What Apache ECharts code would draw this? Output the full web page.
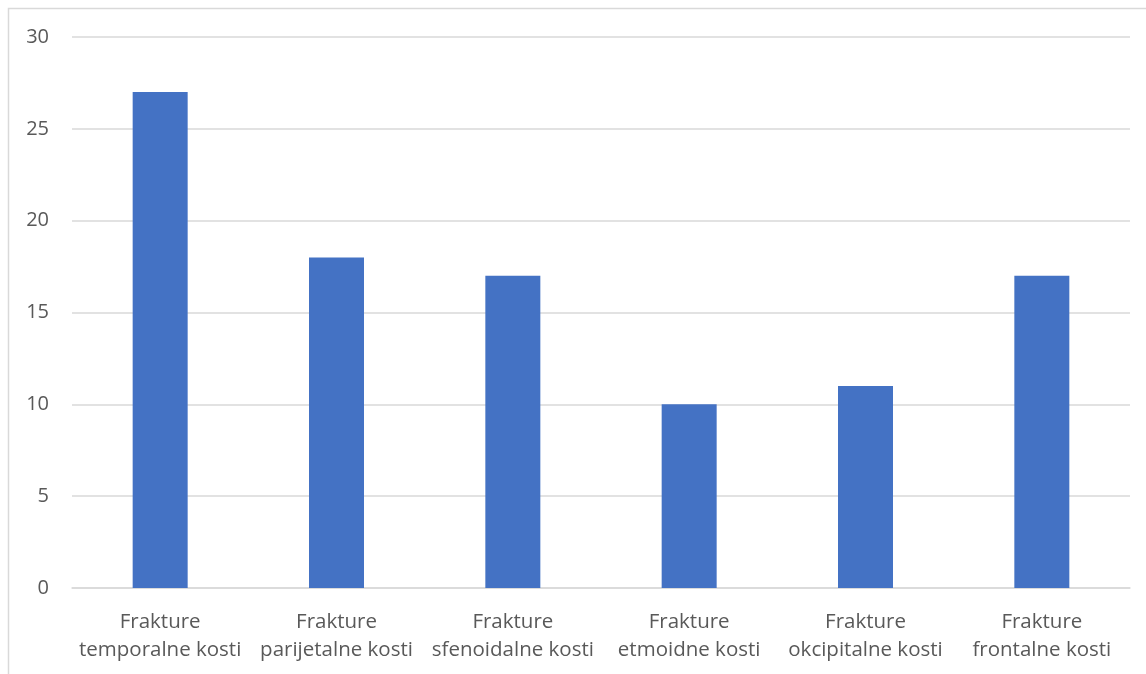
<!DOCTYPE html>
<html><head><meta charset="utf-8">
<script src="https://cdn.jsdelivr.net/npm/echarts@6/dist/echarts.min.js"></script>
<style>html,body{margin:0;padding:0;background:#fff}#c{width:1146px;height:674px}</style>
</head><body><div id="c"></div>
<script>
const categories = ['Frakture\ntemporalne kosti','Frakture\nparijetalne kosti','Frakture\nsfenoidalne kosti','Frakture\netmoidne kosti','Frakture\nokcipitalne kosti','Frakture\nfrontalne kosti'];
const values = [27, 18, 17, 10, 11, 17];
const yTicks = {min: 0, max: 30, interval: 5};
const chart = echarts.init(document.getElementById('c'));
chart.setOption({
  animation: false,
  graphic: [{type:'rect', shape:{x:8.5,y:8.5,width:1200,height:700}, style:{fill:'none',stroke:'#d9d9d9',lineWidth:1.5}, silent:true}],
  grid: {left: 72, right: 16, top: 37, bottom: 86},
  xAxis: {type:'category', data: categories,
    axisLine:{lineStyle:{color:'#d9d9d9',width:1.5}}, axisTick:{show:false},
    axisLabel:{color:'#595959', fontSize:20.5, fontFamily:'Open Sans', lineHeight:28, margin:20, interval:0}},
  yAxis: {type:'value', min:yTicks.min, max:yTicks.max, interval:yTicks.interval,
    axisLine:{show:false}, axisTick:{show:false},
    splitLine:{lineStyle:{color:'#d9d9d9',width:1.5}},
    axisLabel:{color:'#595959', fontSize:20, fontFamily:'Open Sans', margin:23}},
  series: [{type:'bar', data: values, barWidth: 55, itemStyle:{color:'#4472C4'}}]
});
</script></body></html>
